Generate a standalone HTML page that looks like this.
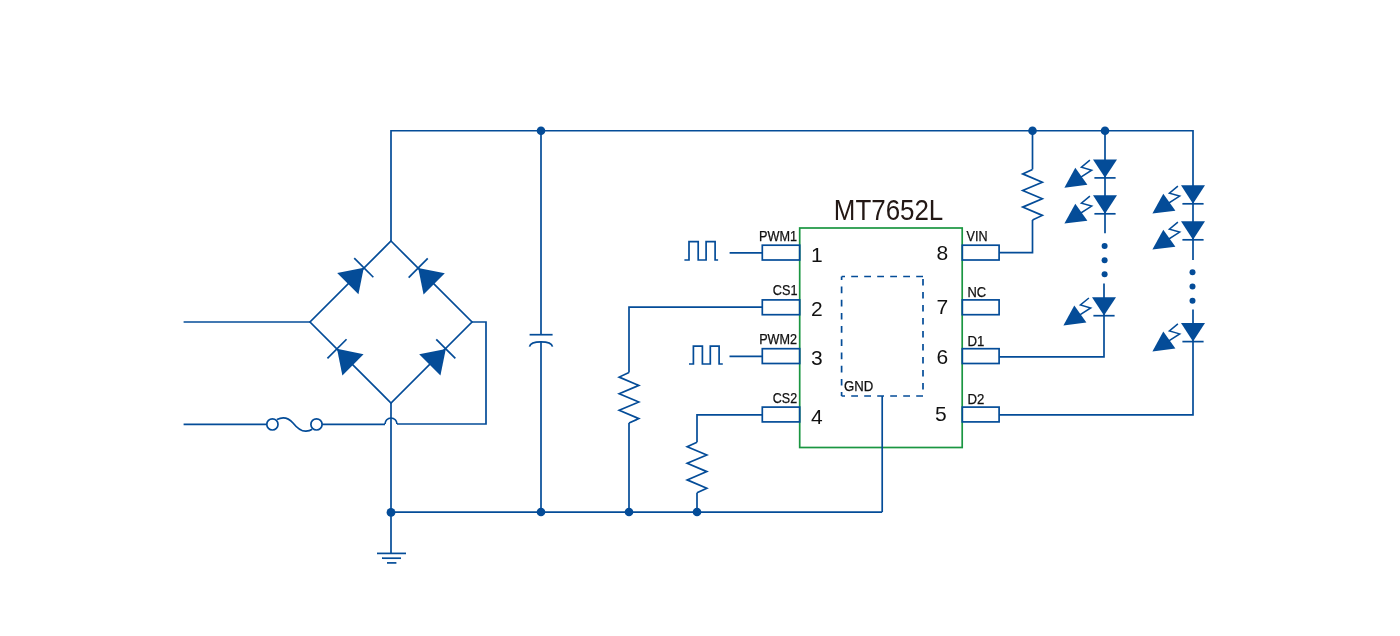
<!DOCTYPE html>
<html><head><meta charset="utf-8"><style>
html,body{margin:0;padding:0;background:#fff;}
body{width:1400px;height:636px;overflow:hidden;font-family:"Liberation Sans",sans-serif;}
svg{display:block;will-change:transform;}
</style></head><body>
<svg width="1400" height="636" viewBox="0 0 1400 636">
<g fill="none" stroke="#044c98" stroke-width="1.7" stroke-linecap="butt" stroke-linejoin="miter">
<polyline points="391.00,241.00 391.00,130.75 1193.00,130.75 1193.00,260.00" />
<circle cx="541" cy="130.75" r="4.3" fill="#044c98" stroke="none"/>
<circle cx="1032.5" cy="130.75" r="4.3" fill="#044c98" stroke="none"/>
<circle cx="1105" cy="130.75" r="4.3" fill="#044c98" stroke="none"/>
<polygon points="391,241 472,322 391,403 310,322"/>
<polygon points="363.80,267.70 337.21,273.07 358.43,294.29" fill="#044c98" stroke="none"/>
<line x1="354.25" y1="258.15" x2="373.35" y2="277.25" />
<polygon points="418.20,268.00 423.57,294.59 444.79,273.37" fill="#044c98" stroke="none"/>
<line x1="408.65" y1="277.55" x2="427.75" y2="258.45" />
<polygon points="337.00,348.80 342.37,375.39 363.59,354.17" fill="#044c98" stroke="none"/>
<line x1="327.45" y1="358.35" x2="346.55" y2="339.25" />
<polygon points="445.80,348.90 419.21,354.27 440.43,375.49" fill="#044c98" stroke="none"/>
<line x1="436.25" y1="339.35" x2="455.35" y2="358.45" />
<line x1="183.6" y1="322" x2="310" y2="322" />
<polyline points="472.00,322.00 486.00,322.00 486.00,424.00 397.00,424.00" />
<path d="M397,424 A6,6 0 0 0 385,424"/>
<line x1="385" y1="424.4" x2="322" y2="424.4" />
<line x1="183.6" y1="424.4" x2="266.6" y2="424.4" />
<circle cx="272.4" cy="424.4" r="5.6"/>
<circle cx="316.5" cy="424.4" r="5.6"/>
<path d="M277,419.6 C283,416.5 288.5,418 293,423 C297,428 301,431.5 306,431.2 C308.5,431 310.5,430.3 312.2,429.2"/>
<line x1="391" y1="403" x2="391" y2="553.4" />
<line x1="391" y1="512.2" x2="882.2" y2="512.2" />
<circle cx="391" cy="512.4" r="4.4" fill="#044c98" stroke="none"/>
<circle cx="541" cy="512" r="4.3" fill="#044c98" stroke="none"/>
<circle cx="629" cy="512" r="4.3" fill="#044c98" stroke="none"/>
<circle cx="697" cy="512" r="4.3" fill="#044c98" stroke="none"/>
<line x1="377" y1="553.4" x2="406" y2="553.4" />
<line x1="382" y1="558.2" x2="401" y2="558.2" />
<line x1="387" y1="562.9" x2="396.4" y2="562.9" />
<line x1="541" y1="130.75" x2="541" y2="334.7" />
<line x1="529.6" y1="334.7" x2="552.6" y2="334.7" />
<path d="M529.5,346.6 C531,340.2 551,340.2 552.5,346.6"/>
<line x1="541" y1="341.6" x2="541" y2="512" />
<rect x="799.7" y="228" width="162.5" height="219.5" stroke="#1a9641" stroke-width="1.7"/>
<rect x="762.3" y="245.2" width="37.4" height="14.8"/>
<rect x="762.3" y="299.90000000000003" width="37.4" height="14.8"/>
<rect x="762.3" y="348.70000000000005" width="37.4" height="14.8"/>
<rect x="762.3" y="407.1" width="37.4" height="14.8"/>
<rect x="962.3" y="245.2" width="36.8" height="14.8"/>
<rect x="962.3" y="299.90000000000003" width="36.8" height="14.8"/>
<rect x="962.3" y="348.70000000000005" width="36.8" height="14.8"/>
<rect x="962.3" y="407.1" width="36.8" height="14.8"/>
<line x1="729.6" y1="252.9" x2="762.3" y2="252.9" />
<line x1="729.5" y1="356.3" x2="762.3" y2="356.3" />
<polyline points="684.40,260.00 689.00,260.00 689.00,241.70 698.20,241.70 698.20,260.00 706.10,260.00 706.10,241.70 715.10,241.70 715.10,260.00 718.10,260.00" />
<polyline points="689.00,364.00 693.40,364.00 693.40,346.10 702.40,346.10 702.40,364.00 710.30,364.00 710.30,346.10 719.10,346.10 719.10,364.00 722.80,364.00" />
<polyline points="762.30,307.10 629.00,307.10 629.00,372.60" />
<polyline points="629.00,372.60 619.20,377.10 638.80,385.40 619.20,393.70 638.80,402.00 619.20,410.30 638.80,418.60 629.00,423.10" stroke-linejoin="miter"/>
<line x1="629" y1="423.1" x2="629" y2="512" />
<polyline points="762.30,414.90 697.00,414.90 697.00,442.20" />
<polyline points="697.00,442.20 687.20,446.70 706.80,455.00 687.20,463.30 706.80,471.60 687.20,479.90 706.80,488.20 697.00,492.70" stroke-linejoin="miter"/>
<line x1="697" y1="492.7" x2="697" y2="512" />
<line x1="1032.5" y1="130.75" x2="1032.5" y2="169.4" />
<polyline points="1032.50,169.40 1022.70,173.90 1042.30,182.20 1022.70,190.50 1042.30,198.80 1022.70,207.10 1042.30,215.40 1032.50,219.90" stroke-linejoin="miter"/>
<polyline points="1032.50,219.90 1032.50,252.60 999.10,252.60" />
<line x1="923" y1="276.5" x2="841.7" y2="276.5" stroke-dasharray="6.8 6.2"/>
<line x1="923" y1="396" x2="841.6" y2="396" stroke-dasharray="6.8 6.2"/>
<line x1="841.6" y1="276.5" x2="841.6" y2="396" stroke-dasharray="6.7 6.5" stroke-dashoffset="3.2"/>
<line x1="923" y1="276.5" x2="923" y2="396" stroke-dasharray="6.5 6.5" stroke-dashoffset="10.5"/>
<line x1="882.2" y1="396" x2="882.2" y2="512" />
<line x1="1105" y1="130.75" x2="1105" y2="233.3" />
<circle cx="1104.6" cy="246.1" r="3" fill="#044c98" stroke="none"/>
<circle cx="1104.6" cy="260.2" r="3" fill="#044c98" stroke="none"/>
<circle cx="1104.6" cy="274.2" r="3" fill="#044c98" stroke="none"/>
<polyline points="1104.00,283.50 1104.00,356.80 999.10,356.80" />
<polygon points="1093,159.4 1117,159.4 1105,177.8" fill="#044c98" stroke="none"/>
<line x1="1094.4" y1="177.9" x2="1115.6" y2="177.9" />
<polygon points="1064.40,187.70 1075.30,167.80 1087.40,184.80" fill="#044c98" stroke="none"/>
<polyline points="1078.50,178.60 1091.70,170.20 1081.40,167.20 1089.90,160.20" stroke-width="1.5"/>
<polygon points="1093,195.3 1117,195.3 1105,213.70000000000002" fill="#044c98" stroke="none"/>
<line x1="1094.4" y1="213.8" x2="1115.6" y2="213.8" />
<polygon points="1064.40,223.60 1075.30,203.70 1087.40,220.70" fill="#044c98" stroke="none"/>
<polyline points="1078.50,214.50 1091.70,206.10 1081.40,203.10 1089.90,196.10" stroke-width="1.5"/>
<polygon points="1092,297.2 1116,297.2 1104,315.59999999999997" fill="#044c98" stroke="none"/>
<line x1="1093.4" y1="315.7" x2="1114.6" y2="315.7" />
<polygon points="1063.40,325.50 1074.30,305.60 1086.40,322.60" fill="#044c98" stroke="none"/>
<polyline points="1077.50,316.40 1090.70,308.00 1080.40,305.00 1088.90,298.00" stroke-width="1.5"/>
<circle cx="1192.5" cy="272.3" r="3" fill="#044c98" stroke="none"/>
<circle cx="1192.5" cy="286.5" r="3" fill="#044c98" stroke="none"/>
<circle cx="1192.5" cy="300.7" r="3" fill="#044c98" stroke="none"/>
<polyline points="1193.00,309.50 1193.00,414.90 999.10,414.90" />
<polygon points="1181,185.3 1205,185.3 1193,203.70000000000002" fill="#044c98" stroke="none"/>
<line x1="1182.4" y1="203.8" x2="1203.6" y2="203.8" />
<polygon points="1152.40,213.60 1163.30,193.70 1175.40,210.70" fill="#044c98" stroke="none"/>
<polyline points="1166.50,204.50 1179.70,196.10 1169.40,193.10 1177.90,186.10" stroke-width="1.5"/>
<polygon points="1181,221.3 1205,221.3 1193,239.70000000000002" fill="#044c98" stroke="none"/>
<line x1="1182.4" y1="239.8" x2="1203.6" y2="239.8" />
<polygon points="1152.40,249.60 1163.30,229.70 1175.40,246.70" fill="#044c98" stroke="none"/>
<polyline points="1166.50,240.50 1179.70,232.10 1169.40,229.10 1177.90,222.10" stroke-width="1.5"/>
<polygon points="1181,323.1 1205,323.1 1193,341.5" fill="#044c98" stroke="none"/>
<line x1="1182.4" y1="341.6" x2="1203.6" y2="341.6" />
<polygon points="1152.40,351.40 1163.30,331.50 1175.40,348.50" fill="#044c98" stroke="none"/>
<polyline points="1166.50,342.30 1179.70,333.90 1169.40,330.90 1177.90,323.90" stroke-width="1.5"/>
</g>
<g fill="#111" font-family="Liberation Sans, sans-serif">
<text x="833.8" y="219.9" font-size="29.3" fill="#231815" textLength="109.5" lengthAdjust="spacingAndGlyphs">MT7652L</text>
<text x="759.0" y="240.6" font-size="13.8" text-anchor="start" textLength="38.1" lengthAdjust="spacingAndGlyphs" stroke="#111" stroke-width="0.25">PWM1</text>
<text x="772.8" y="294.8" font-size="13.8" text-anchor="start" textLength="24.7" lengthAdjust="spacingAndGlyphs" stroke="#111" stroke-width="0.25">CS1</text>
<text x="759.2" y="343.9" font-size="13.8" text-anchor="start" textLength="37.9" lengthAdjust="spacingAndGlyphs" stroke="#111" stroke-width="0.25">PWM2</text>
<text x="772.8" y="402.9" font-size="13.8" text-anchor="start" textLength="24.3" lengthAdjust="spacingAndGlyphs" stroke="#111" stroke-width="0.25">CS2</text>
<text x="966.6" y="240.6" font-size="13.8" text-anchor="start" textLength="21.0" lengthAdjust="spacingAndGlyphs" stroke="#111" stroke-width="0.25">VIN</text>
<text x="967.4" y="296.7" font-size="13.8" text-anchor="start" textLength="18.7" lengthAdjust="spacingAndGlyphs" stroke="#111" stroke-width="0.25">NC</text>
<text x="967.4" y="345.8" font-size="13.8" text-anchor="start" textLength="16.9" lengthAdjust="spacingAndGlyphs" stroke="#111" stroke-width="0.25">D1</text>
<text x="967.4" y="403.9" font-size="13.8" text-anchor="start" textLength="16.9" lengthAdjust="spacingAndGlyphs" stroke="#111" stroke-width="0.25">D2</text>
<text x="844.0" y="390.8" font-size="13.8" text-anchor="start" textLength="29.3" lengthAdjust="spacingAndGlyphs" stroke="#111" stroke-width="0.25">GND</text>
<text x="811" y="262" font-size="21" text-anchor="start">1</text>
<text x="811" y="315.8" font-size="21" text-anchor="start">2</text>
<text x="811" y="364.7" font-size="21" text-anchor="start">3</text>
<text x="811" y="423.9" font-size="21" text-anchor="start">4</text>
<text x="936.5" y="259.5" font-size="21" text-anchor="start">8</text>
<text x="936.5" y="313.8" font-size="21" text-anchor="start">7</text>
<text x="936.5" y="363.7" font-size="21" text-anchor="start">6</text>
<text x="935" y="420.8" font-size="21" text-anchor="start">5</text>
</g>
</svg>
</body></html>
